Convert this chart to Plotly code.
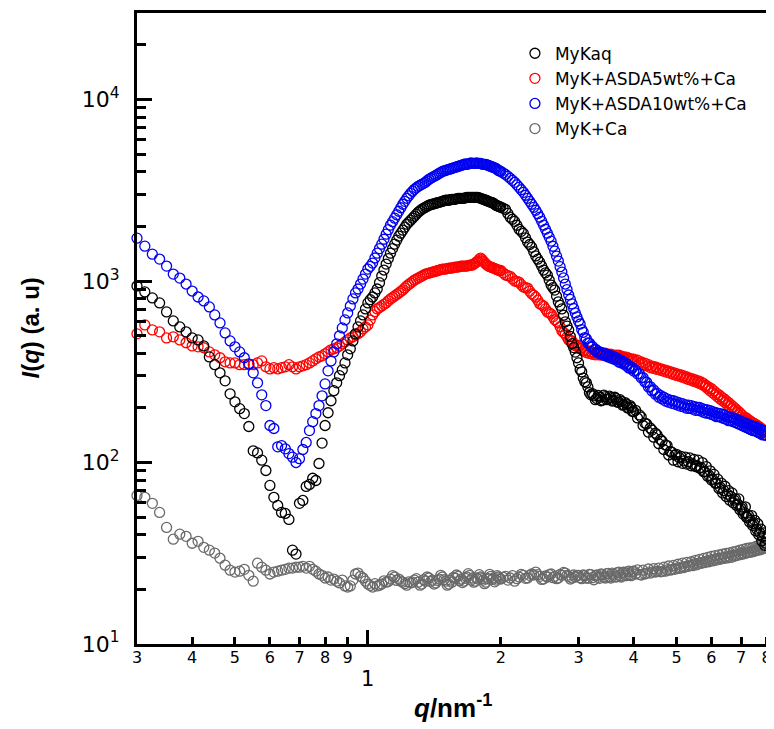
import plotly.graph_objects as go

# scattering vector q (nm^-1), common grid of all four curves
q_low = [0.300,0.3125,0.325,0.3375,0.350,0.3625,0.375,0.3875,0.400,0.4125,0.425,0.4375,0.450,0.4625,0.475,
         0.4875,0.500,0.5125,0.525,0.5375,0.550,0.5625,0.575,0.5875,0.600,0.6125,0.625,0.6375,0.650,0.6625,
         0.675,0.6875,0.700,0.7125,0.725,0.7375,0.750,0.7625,0.775,0.7875,0.800,0.8125,0.825,0.8375,0.850,
         0.8625,0.875,0.8875,0.900,0.9125,0.925,0.9375,0.950,0.9625,0.975,0.9875,1.000]
q_mid = [1.0125,1.025,1.0375,1.05,1.0625,1.075,1.0875,1.1,1.1125,1.125,1.1375,1.15,1.1625,1.175,1.1875,1.2,
         1.2125,1.225,1.2375,1.25,1.2625,1.275,1.2875,1.3,1.3125,1.325,1.3375,1.35,1.3625,1.375,1.3875,1.4,
         1.4125,1.425,1.4375,1.45,1.4625,1.475,1.4875,1.5,1.5125,1.525,1.5375,1.55,1.5625,1.575,1.5875,1.6,
         1.6125,1.625,1.6375,1.65,1.6625,1.675,1.6875,1.7,1.7125,1.725,1.7375,1.75,1.7625,1.775,1.7875,1.8,
         1.8125,1.825,1.8375,1.85,1.8625,1.875,1.8875,1.9,1.9125,1.925,1.9375,1.95,1.9625,1.975,1.9875]
q_high = [2.000,2.025,2.050,2.075,2.100,2.125,2.150,2.175,2.200,2.225,2.250,2.275,2.300,2.325,2.350,2.375,
          2.400,2.425,2.450,2.475,2.500,2.525,2.550,2.575,2.600,2.625,2.650,2.675,2.700,2.725,2.750,2.775,
          2.800,2.825,2.850,2.875,2.900,2.925,2.950,2.975,
          3.000,3.025,3.050,3.075,3.100,3.125,3.150,3.175,3.200,3.225,3.250,3.275,3.300,3.325,3.350,3.375,
          3.400,3.425,3.450,3.475,3.500,3.525,3.550,3.575,3.600,3.625,3.650,3.675,3.700,3.725,3.750,3.775,
          3.800,3.825,3.850,3.875,3.900,3.925,3.950,3.975,4.000]
q_tail = [4.04,4.08,4.12,4.16,4.20,4.24,4.28,4.32,4.36,4.40,4.44,4.48,4.52,4.56,4.60,4.64,4.68,4.72,4.76,4.80,
          4.84,4.88,4.92,4.96,5.00,5.04,5.08,5.12,5.16,5.20,5.24,5.28,5.32,5.36,5.40,5.44,5.48,5.52,5.56,5.60,
          5.64,5.68,5.72,5.76,5.80,5.84,5.88,5.92,5.96,6.00,6.04,6.08,6.12,6.16,6.20,6.24,6.28,6.32,6.36,6.40,
          6.44,6.48,6.52,6.56,6.60,6.64,6.68,6.72,6.76,6.80,6.84,6.88,6.92,6.96,7.00,7.04,7.08,7.12,7.16,7.20,
          7.24,7.28,7.32,7.36,7.40,7.44,7.48,7.52,7.56,7.60,7.64,7.68,7.72,7.76,7.80,7.84,7.88,7.92,7.96,8.00]
q = q_low + q_mid + q_high + q_tail

# I(q) of MyKaq
mykaq = [939,871,807,758,676,603,559,525,486,474,439,382,346,312,282,239,216,198,186,158,116,113,103,90.4,
         74.8,64.3,58.0,53.1,52.4,48.6,32.9,31.3,59.6,61.8,73.8,75.7,81.9,79.6,98.8,128,160,188,219,249,275,
         301,324,354,392,423,468,512,559,603,651,702,758,
         790,817,860,904,980,1065,1150,1240,1330,1425,1510,1597,1680,1768,1835,1906,1980,2057,2110,2164,
         2220,2276,2335,2394,2440,2487,2520,2551,2585,2616,2633,2650,2667,2683,2700,2717,2734,2751,2770,2787,
         2787,2787,2805,2822,2822,2822,2840,2858,2858,2858,2858,2858,2876,2895,2895,2895,2895,2895,2895,2895,
         2895,2895,2876,2858,2840,2822,2805,2787,2770,2751,2734,2717,2700,2683,2650,2616,2600,2583,2567,
         2551,2520,2480,2360,2250,2190,2130,2030,1930,1880,1830,1730,1640,1590,1535,1450,1375,1320,1270,1210,
         1150,1110,1078,1010,950,920,892,825,768,735,702,648,596,565,537,495,452,430,406,378,
         354,326,316,292,279,275,261,243,236,240,233,222,225,234,229,219,221,235,231,222,224,232,228,218,
         220,229,225,215,215,222,217,207,208,214,210,200,200,206,201,191,191,
         194,176,183,178,160,165,163,147,155,151,138,145,142,127,134,131,118,125,124,110,115,114,103,110,
         111,101,106,108,99,102,107,98,101,106,96,98,104,95,96,103,93,94,100,89,89,95,84,85,90,80,81,86,
         77,77,81,72,73,77,68,70,74,65,67,70,62,65,68,60,62,63,58,59,63,55,56,57,52,53,57,50,50,51,47,48,
         51,45,46,48,42,43,46,40,41,43,37,39,41,35,36,38]

# I(q) of MyK+ASDA5wt%+Ca
asda5 = [512,573,538,525,486,493,474,457,439,434,429,407,392,378,359,354,354,346,346,346,346,354,363,337,
         328,333,328,333,337,346,337,328,337,341,346,354,363,373,382,387,397,407,418,423,429,439,451,462,
         474,486,493,505,512,525,545,559,573,
         610,651,678,702,715,729,744,758,778,797,812,827,843,860,876,893,916,939,957,975,
         994,1013,1025,1038,1052,1065,1079,1092,1099,1106,1113,1120,1127,1134,1141,1149,1156,1164,1164,1164,
         1171,1179,1179,1179,1186,1194,1194,1194,1201,1209,1209,1209,1209,1209,1216,1224,1224,1224,1240,1256,
         1272,1288,1313,1338,1313,1288,1264,1240,1224,1209,1201,1194,1186,1179,1171,1164,1156,1149,1140,
         1145,1110,1080,1070,1062,1030,1000,995,985,955,928,920,915,880,850,835,815,785,750,740,
         728,702,676,668,658,635,612,600,588,560,532,520,511,492,474,471,468,453,440,442,
         442,425,428,412,418,404,412,399,408,395,403,392,402,392,402,391,401,391,401,390,396,386,396,385,
         391,382,391,380,390,377,386,375,382,372,381,369,376,366,373,363,371,
         361,366,353,358,347,353,341,346,334,340,330,336,326,331,322,327,318,323,314,319,310,315,306,311,
         302,307,299,304,295,300,291,296,287,292,284,289,280,285,277,282,273,278,268,273,263,266,256,260,
         249,255,242,248,236,241,230,236,224,230,219,225,214,219,208,214,203,208,198,203,193,198,188,193,
         183,188,178,183,174,178,171,176,168,172,165,169,162,166,159,163,157,161,154,158,151,155,149,152,
         146,150,143,146]

# I(q) of MyK+ASDA10wt%+Ca
asda10 = [1723,1557,1407,1321,1209,1092,1038,963,881,817,777,720,651,588,518,468,434,407,378,350,312,275,
          236,206,160,154,122,124,119,112,107,100,105,118,129,150,168,186,206,233,271,320,363,407,451,499,
          552,611,667,729,797,860,904,963,1025,1092,1164,
          1205,1256,1340,1425,1510,1597,1700,1812,1920,2031,2125,2220,2320,2424,2535,2650,2750,2858,2950,3045,
          3125,3203,3265,3327,3370,3412,3455,3499,3565,3634,3680,3727,3775,3822,3870,3921,3970,4021,4045,4072,
          4100,4124,4150,4177,4205,4230,4255,4284,4310,4339,4365,4394,4420,4394,4420,4450,4480,4450,4450,4450,
          4480,4450,4450,4450,4420,4394,4394,4394,4365,4339,4310,4284,4255,4230,4205,4177,4125,4072,4045,
          4021,3945,3871,3775,3680,3590,3499,3390,3286,3185,3083,2970,2858,2750,2650,2550,2455,2350,2247,2135,
          2031,1930,1835,1745,1659,1555,1461,1372,1288,1200,1120,1040,963,898,838,792,748,706,667,634,
          603,580,540,522,488,481,456,455,433,436,418,422,407,411,398,405,392,399,387,395,382,390,377,386,
          372,381,368,374,358,367,354,362,349,355,341,347,332,340,328,333,319,
          322,308,309,293,294,278,277,261,262,248,251,238,241,229,234,224,229,218,224,215,221,212,219,210,
          216,207,213,204,211,202,208,199,207,199,206,197,203,194,202,194,201,192,198,189,196,187,195,187,
          193,184,191,182,188,179,187,179,186,177,184,175,182,173,179,170,178,170,177,168,175,166,173,164,
          171,162,169,160,167,158,165,156,163,154,161,152,159,150,158,150,157,148,155,146,153,144,151,142,
          150,142,149,141]

# I(q) of MyK+Ca
myk_ca = [65.9,64.3,59.6,53.1,43.9,37.8,40.3,39.2,35.9,36.8,34.1,32.9,31.7,29.7,27.2,25.5,24.9,25.2,25.8,
          23.9,22.2,27.9,26.5,25.5,24.3,24.9,25.2,25.5,25.8,26.2,26.2,26.5,26.5,26.8,26.2,26.8,25.8,25.2,
          24.3,23.9,23.1,23.4,22.5,22.8,22.2,21.7,22.5,20.9,20.6,20.9,22.5,24.3,24.6,23.6,23.1,22.2,21.4,
          21.0,20.6,21.5,20.9,21.1,21.4,22.3,21.9,22.1,22.8,23.8,23.4,22.4,22.8,22.2,21.9,21.5,21.1,22.0,21.7,
          21.9,22.5,22.9,21.9,21.1,21.4,22.6,22.2,23.4,23.1,22.1,22.5,21.4,21.7,22.4,22.8,23.9,23.4,22.6,22.2,
          21.1,21.4,22.5,21.9,23.3,23.1,24.0,23.6,22.3,22.8,21.8,22.2,23.0,23.4,24.4,23.9,22.5,23.1,21.9,22.2,
          23.1,22.8,24.1,23.4,22.9,22.5,21.5,21.9,23.0,22.8,24.2,23.6,22.7,23.1,22.0,22.5,23.8,23.4,22.9,
          22.8,23.3,23.6,22.5,23.1,23.8,22.2,22.9,23.4,24.2,23.9,23.0,23.1,23.9,24.3,24.0,24.9,24.1,23.6,22.7,
          22.8,23.7,23.4,24.1,24.3,23.2,23.6,22.9,23.1,24.2,23.9,24.8,24.6,23.9,23.6,22.8,23.1,24.0,23.4,23.9,
          23.9,23.2,22.9,24.0,23.8,23.1,23.0,24.2,24.1,23.2,22.6,23.8,24.0,23.3,23.0,24.3,24.1,23.4,23.1,24.4,
          24.5,23.5,23.1,24.6,24.2,23.5,23.4,24.7,24.9,23.8,23.4,24.8,24.9,24.0,23.8,25.0,25.2,24.1,23.8,25.1,
          25.2,
          24.3,25.6,24.2,24.0,25.5,24.3,24.6,25.9,24.6,24.9,26.0,24.9,25.1,26.2,25.0,25.1,26.5,25.2,25.6,26.9,
          25.5,25.8,27.1,25.8,26.2,27.5,26.1,26.5,27.9,26.4,26.8,28.2,26.8,27.2,28.4,27.0,27.6,28.9,27.3,27.9,
          29.3,27.8,28.2,29.6,28.1,28.6,30.0,28.4,29.0,30.4,28.7,29.3,30.7,29.0,29.6,31.0,29.3,29.7,31.3,29.6,
          30.1,31.6,29.8,30.4,31.8,30.0,30.8,32.2,30.4,30.8,32.5,30.8,31.3,32.9,31.1,31.7,33.2,31.4,32.1,33.6,
          31.8,32.1,33.8,32.0,32.5,34.0,32.3,32.9,34.5,32.7,33.3,34.9,33.0,33.7,35.3,33.4,34.1,35.7,34.0,35.0]

labels = ["MyKaq", "MyK+ASDA5wt%+Ca", "MyK+ASDA10wt%+Ca", "MyK+Ca"]
colors = ["#000000", "#ff0000", "#0000f0", "#6a6a6a"]
series = [mykaq, asda5, asda10, myk_ca]
draw_order = [3, 1, 2, 0]   # grey first, black on top

for s in series:
    assert len(s) == len(q), (len(s), len(q))

x_tickvals = [0.3, 0.4, 0.5, 0.6, 0.7, 0.8, 0.9, 2, 3, 4, 5, 6, 7, 8]
x_ticktext = ["3", "4", "5", "6", "7", "8", "9", "2", "3", "4", "5", "6", "7", "8"]
y_tickvals = [10, 100, 1000, 10000]
y_ticktext = ["10<sup>1</sup>", "10<sup>2</sup>", "10<sup>3</sup>", "10<sup>4</sup>"]
y_minor = [m * d for d in (10, 100, 1000) for m in range(2, 10)] + [20000, 30000]

fig = go.Figure()
for i in draw_order:
    col = colors[i]
    fig.add_trace(go.Scatter(
        x=q, y=series[i], mode="markers", name=labels[i], legendrank=i + 1, cliponaxis=False,
        marker=dict(symbol="circle-open", size=10, color=col, line=dict(width=1.3, color=col)),
    ))

# the page body has an 8px margin, so the figure is 8px smaller than the window
fig.update_layout(
    width=766, height=721,
    margin=dict(l=129, r=2, t=4, b=85),
    paper_bgcolor="white", plot_bgcolor="white",
    showlegend=True,
    legend=dict(x=0.598, y=0.964, xanchor="left", yanchor="top", traceorder="normal",
                font=dict(family="DejaVu Sans", size=17, color="black"),
                bgcolor="rgba(0,0,0,0)", tracegroupgap=0, itemwidth=30),
    xaxis=dict(type="log", range=[-0.52288, 0.9085], showgrid=False, zeroline=False,
               showline=True, linecolor="black", linewidth=3, mirror=True,
               tickmode="array", tickvals=x_tickvals, ticktext=x_ticktext,
               ticks="inside", ticklen=7, tickwidth=3, tickcolor="black",
               tickfont=dict(family="DejaVu Sans", size=16, color="black"), ticklabelstandoff=-3,
               minor=dict(tickmode="array", tickvals=[1], ticks="inside", ticklen=14,
                          tickwidth=3, tickcolor="black", showgrid=False)),
    yaxis=dict(type="log", range=[1, 4.4771], showgrid=False, zeroline=False,
               showline=True, linecolor="black", linewidth=3, mirror=True,
               tickmode="array", tickvals=y_tickvals, ticktext=y_ticktext,
               ticks="inside", ticklen=15, tickwidth=3, tickcolor="black",
               tickfont=dict(family="DejaVu Sans", size=22, color="black"), ticklabelstandoff=10,
               minor=dict(tickmode="array", tickvals=y_minor, ticks="inside", ticklen=9,
                          tickwidth=2.5, tickcolor="black", showgrid=False)),
    annotations=[
        dict(text="1", x=0, y=0, xref="x", yref="paper", yanchor="middle", xanchor="center",
             yshift=-35, showarrow=False, font=dict(family="DejaVu Sans", size=21, color="black")),
        dict(text="<b><i>q</i>/nm<sup>-1</sup></b>", x=0.5, y=0, xref="paper", yref="paper",
             xanchor="center", yanchor="middle", yshift=-62, showarrow=False,
             font=dict(family="Liberation Sans", size=26, color="black")),
        dict(text="<b><i>I</i>(<i>q</i>) (a. u)</b>", x=0, y=0.5, xref="paper", yref="paper",
             xanchor="center", yanchor="middle", xshift=-107, textangle=-90, showarrow=False,
             font=dict(family="Liberation Sans", size=24, color="black")),
    ],
)

fig.write_html("out.html")
